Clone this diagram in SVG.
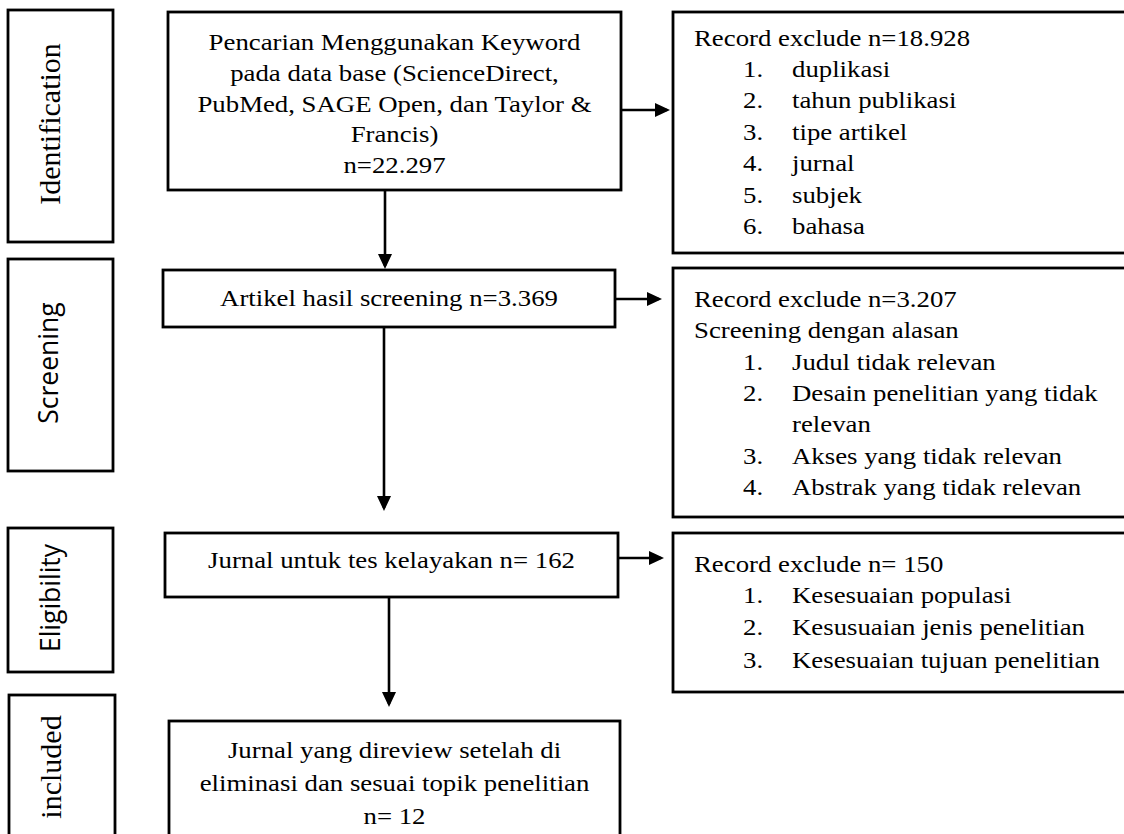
<svg xmlns="http://www.w3.org/2000/svg" width="1124" height="834" viewBox="0 0 1124 834">
<style>
.box{fill:#fff;stroke:#000;stroke-width:2.8}
.t{font-family:"Liberation Serif","Times New Roman",serif;font-size:23.5px;fill:#000}
.c{text-anchor:middle}
.lser{font-family:"Liberation Serif","Times New Roman",serif;font-size:30px;fill:#000;text-anchor:middle}
.lsan{font-family:"Open Sans","Noto Sans",sans-serif;font-size:26.5px;fill:#000;text-anchor:middle}
.edge{fill:none;stroke:#000;stroke-width:2.6}
</style>
<defs>
<marker id="ah" markerUnits="userSpaceOnUse" markerWidth="15" markerHeight="14" refX="12" refY="7" orient="auto">
<path d="M0,0 L15,7 L0,14 z" fill="#000"/>
</marker>
</defs>
<rect width="1124" height="834" fill="#fff"/>

<g id="label-identification">
<rect class="box" x="8" y="10" width="105" height="232"/>
<text class="lser" transform="translate(60,124) rotate(-90)">Identification</text>
</g>
<g id="label-screening">
<rect class="box" x="8" y="259" width="105" height="212"/>
<text class="lsan" transform="translate(58,363) rotate(-90)">Screening</text>
</g>
<g id="label-eligibility">
<rect class="box" x="8" y="528" width="105" height="144"/>
<text class="lsan" transform="translate(60,598) rotate(-90)">Eligibility</text>
</g>
<g id="label-included">
<rect class="box" x="9" y="695" width="106" height="150"/>
<text class="lser" transform="translate(61,767) rotate(-90)">included</text>
</g>

<g id="identification">
<rect class="box" x="168" y="12" width="453" height="178"/>
<text class="t c" transform="translate(394.5,50) scale(1.14,1)">Pencarian Menggunakan Keyword</text>
<text class="t c" transform="translate(394.5,81) scale(1.14,1)">pada data base (ScienceDirect,</text>
<text class="t c" transform="translate(394.5,112) scale(1.14,1)">PubMed, SAGE Open, dan Taylor &amp;</text>
<text class="t c" transform="translate(394.5,142) scale(1.14,1)">Francis)</text>
<text class="t c" transform="translate(394.5,173) scale(1.14,1)">n=22.297</text>
</g>

<g id="exclude-1">
<rect class="box" x="673" y="12" width="460" height="241"/>
<text class="t" transform="translate(694,46) scale(1.14,1)">Record exclude n=18.928</text>
<text class="t" transform="translate(743,77) scale(1.14,1)">1.</text>
<text class="t" transform="translate(792,77) scale(1.14,1)">duplikasi</text>
<text class="t" transform="translate(743,108) scale(1.14,1)">2.</text>
<text class="t" transform="translate(792,108) scale(1.14,1)">tahun publikasi</text>
<text class="t" transform="translate(743,140) scale(1.14,1)">3.</text>
<text class="t" transform="translate(792,140) scale(1.14,1)">tipe artikel</text>
<text class="t" transform="translate(743,171) scale(1.14,1)">4.</text>
<text class="t" transform="translate(792,171) scale(1.14,1)">jurnal</text>
<text class="t" transform="translate(743,203) scale(1.14,1)">5.</text>
<text class="t" transform="translate(792,203) scale(1.14,1)">subjek</text>
<text class="t" transform="translate(743,234) scale(1.14,1)">6.</text>
<text class="t" transform="translate(792,234) scale(1.14,1)">bahasa</text>
</g>

<g id="screening">
<rect class="box" x="163" y="270" width="452" height="57"/>
<text class="t c" transform="translate(389,306) scale(1.14,1)">Artikel hasil screening n=3.369</text>
</g>

<g id="exclude-2">
<rect class="box" x="673" y="268" width="460" height="249"/>
<text class="t" transform="translate(694,307) scale(1.14,1)">Record exclude n=3.207</text>
<text class="t" transform="translate(694,338) scale(1.14,1)">Screening dengan alasan</text>
<text class="t" transform="translate(743,370) scale(1.14,1)">1.</text>
<text class="t" transform="translate(792,370) scale(1.14,1)">Judul tidak relevan</text>
<text class="t" transform="translate(743,401) scale(1.14,1)">2.</text>
<text class="t" transform="translate(792,401) scale(1.14,1)">Desain penelitian yang tidak</text>
<text class="t" transform="translate(792,432) scale(1.14,1)">relevan</text>
<text class="t" transform="translate(743,464) scale(1.14,1)">3.</text>
<text class="t" transform="translate(792,464) scale(1.14,1)">Akses yang tidak relevan</text>
<text class="t" transform="translate(743,495) scale(1.14,1)">4.</text>
<text class="t" transform="translate(792,495) scale(1.14,1)">Abstrak yang tidak relevan</text>
</g>

<g id="eligibility">
<rect class="box" x="165" y="533" width="453" height="64"/>
<text class="t c" transform="translate(391.5,568) scale(1.14,1)">Jurnal untuk tes kelayakan n= 162</text>
</g>

<g id="exclude-3">
<rect class="box" x="673" y="533" width="460" height="159"/>
<text class="t" transform="translate(694,572) scale(1.14,1)">Record exclude n= 150</text>
<text class="t" transform="translate(743,603) scale(1.14,1)">1.</text>
<text class="t" transform="translate(792,603) scale(1.14,1)">Kesesuaian populasi</text>
<text class="t" transform="translate(743,635) scale(1.14,1)">2.</text>
<text class="t" transform="translate(792,635) scale(1.14,1)">Kesusuaian jenis penelitian</text>
<text class="t" transform="translate(743,668) scale(1.14,1)">3.</text>
<text class="t" transform="translate(792,668) scale(1.14,1)">Kesesuaian tujuan penelitian</text>
</g>

<g id="included">
<rect class="box" x="169" y="721" width="451" height="130"/>
<text class="t c" transform="translate(394.5,758) scale(1.14,1)">Jurnal yang direview setelah di</text>
<text class="t c" transform="translate(394.5,790.5) scale(1.14,1)">eliminasi dan sesuai topik penelitian</text>
<text class="t c" transform="translate(394.5,824) scale(1.14,1)">n= 12</text>
</g>

<g id="connectors">
<line class="edge" x1="385" y1="190" x2="385" y2="266" marker-end="url(#ah)"/>
<line class="edge" x1="384" y1="327" x2="384" y2="508" marker-end="url(#ah)"/>
<line class="edge" x1="389" y1="597" x2="389" y2="704" marker-end="url(#ah)"/>
<line class="edge" x1="621" y1="110" x2="667" y2="110" marker-end="url(#ah)"/>
<line class="edge" x1="615" y1="299" x2="659" y2="299" marker-end="url(#ah)"/>
<line class="edge" x1="618" y1="558" x2="661" y2="558" marker-end="url(#ah)"/>
</g>
</svg>
